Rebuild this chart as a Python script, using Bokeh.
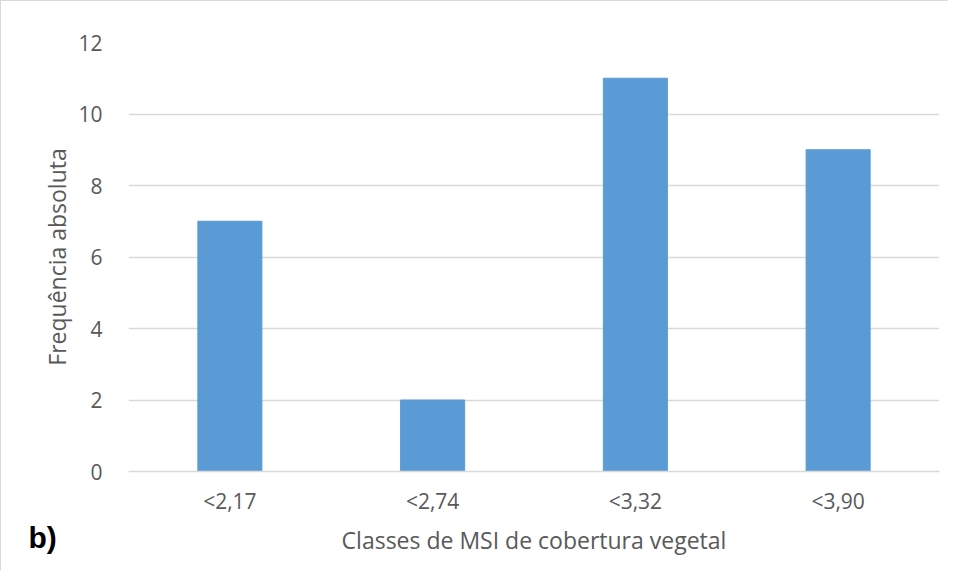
from bokeh.plotting import figure
from bokeh.models import Range1d, Title, FixedTicker
from bokeh.embed import file_html
from bokeh.resources import INLINE

categories = ["<2,17", "<2,74", "<3,32", "<3,90"]
counts = [7, 2, 11, 9]
y_ticks = [0, 2, 4, 6, 8, 10, 12]

FONT = "Open Sans"
TXT = "#595959"
GRID = "#D9D9D9"

p = figure(x_range=categories, y_range=Range1d(0, 12), width=948, height=570,
           output_backend="svg", toolbar_location=None,
           min_border_left=127, min_border_right=10, min_border_top=41, min_border_bottom=100)
p.vbar(x=categories, top=counts, width=0.316, color="#5B9BD5")

p.outline_line_color = None
p.xgrid.grid_line_color = None
p.ygrid.grid_line_color = GRID
p.ygrid.grid_line_width = 1.5
p.yaxis.ticker = FixedTicker(ticks=y_ticks)

for ax in (p.xaxis[0], p.yaxis[0]):
    ax.major_tick_line_color = None
    ax.minor_tick_line_color = None
    ax.major_label_text_font = FONT
    ax.major_label_text_color = TXT
    ax.major_label_text_font_size = "21px"
    ax.axis_label_text_font = FONT
    ax.axis_label_text_color = TXT
    ax.axis_label_text_font_size = "23px"
    ax.axis_label_text_font_style = "normal"

p.yaxis.axis_line_color = None
p.xaxis.axis_line_color = GRID
p.xaxis.axis_line_width = 1.5
p.xaxis.axis_label = "Classes de MSI de cobertura vegetal"
p.yaxis.axis_label = "Frequência absoluta"
p.yaxis.major_label_standoff = 20
p.xaxis.major_label_standoff = 9
p.xaxis.axis_label_standoff = 6
p.yaxis.axis_label_standoff = 2

tag = Title(text="b)", align="left", offset=-100, standoff=-164,
            text_font="Liberation Sans", text_font_style="bold",
            text_font_size="30px", text_color="black")
p.below = [tag] + list(p.below)

p.styles = {"border-top": "1px solid #D9D9D9", "border-left": "1px solid #D9D9D9"}

open("out.html", "w").write(file_html(p, INLINE))
